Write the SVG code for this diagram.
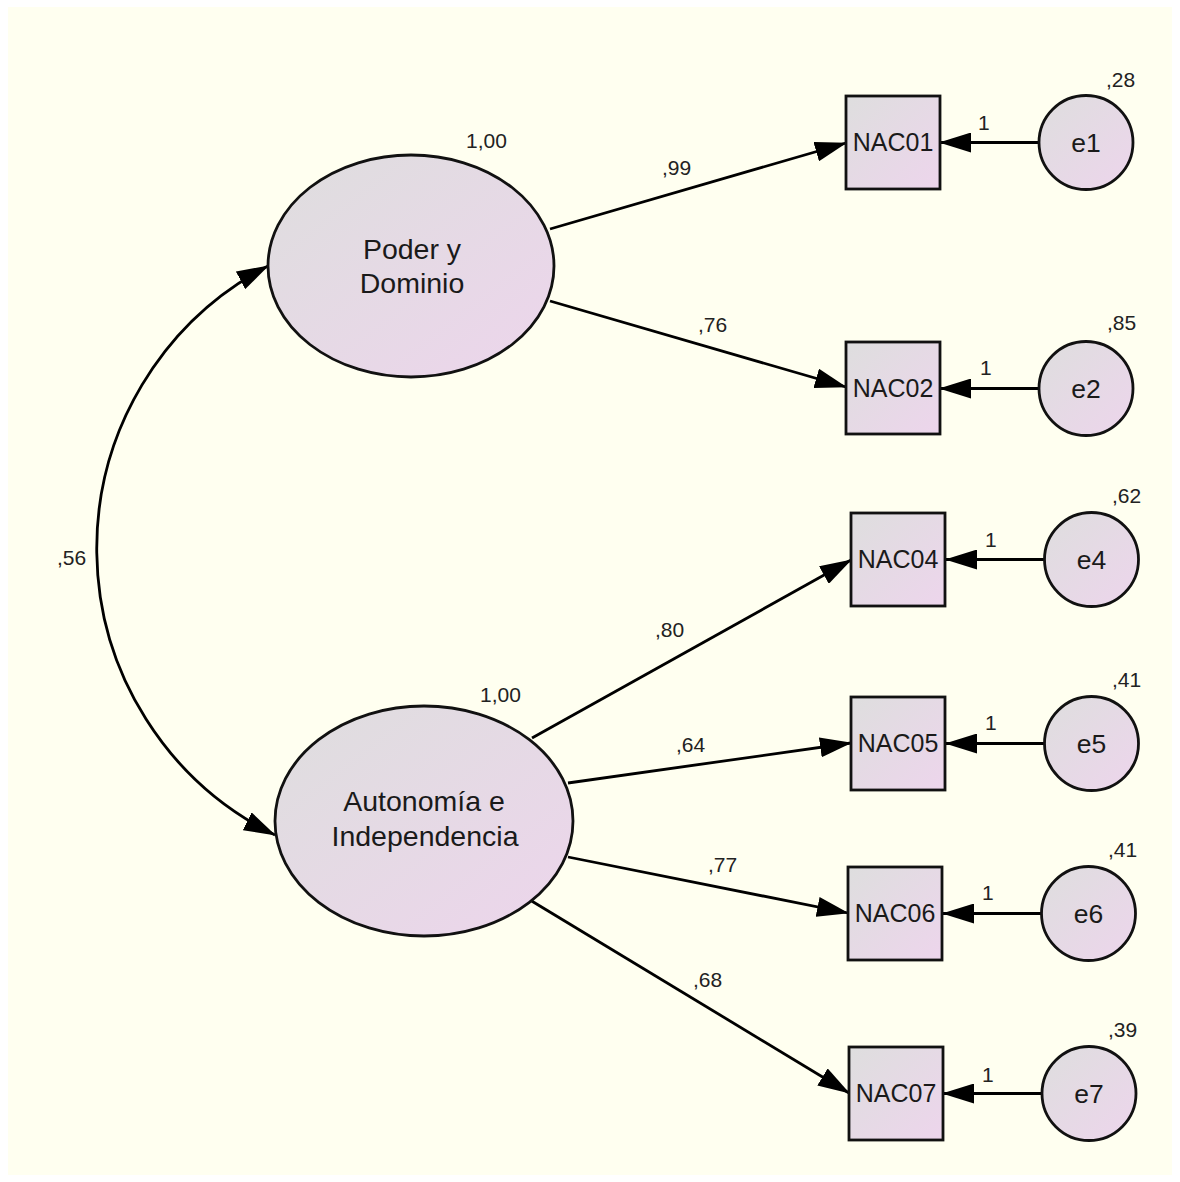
<svg xmlns="http://www.w3.org/2000/svg" width="1180" height="1182" viewBox="0 0 1180 1182">
<defs>
<linearGradient id="fill" x1="0" y1="0" x2="1" y2="1">
<stop offset="0" stop-color="#dedede"/>
<stop offset="1" stop-color="#edd5ec"/>
</linearGradient>
<marker id="ah" viewBox="0 0 32 20" refX="31" refY="10" markerWidth="32" markerHeight="20" markerUnits="userSpaceOnUse" orient="auto-start-reverse">
<path d="M0,0 L32,10 L0,20 z" fill="#000"/>
</marker>
<style>
.node{fill:url(#fill);stroke:#111;stroke-width:2.8}
.edge{fill:none;stroke:#000;stroke-width:2.8;marker-end:url(#ah)}
.lat{font-family:"Liberation Sans",Arial,sans-serif;font-size:28.5px;fill:#1a1a1a;text-anchor:middle}
.obs{font-family:"Liberation Sans",Arial,sans-serif;font-size:25px;fill:#1a1a1a;text-anchor:middle}
.err{font-family:"Liberation Sans",Arial,sans-serif;font-size:26.5px;fill:#1a1a1a;text-anchor:middle}
.lbl{font-family:"Liberation Sans",Arial,sans-serif;font-size:21px;fill:#222}
</style>
</defs>
<rect x="0" y="0" width="1180" height="1182" fill="#ffffff"/>
<rect x="8" y="7" width="1164" height="1168" fill="#fffff0"/>

<g id="connectors">
<path class="edge" d="M 268 266 A 319 319 0 0 0 275 835" style="marker-start:url(#ah)"/>
<line class="edge" x1="550" y1="229" x2="846" y2="143"/>
<line class="edge" x1="550" y1="301" x2="846" y2="387"/>
<line class="edge" x1="532" y1="738" x2="851" y2="560"/>
<line class="edge" x1="568" y1="783" x2="851" y2="743"/>
<line class="edge" x1="568" y1="857" x2="848" y2="913"/>
<line class="edge" x1="530" y1="900" x2="849" y2="1093"/>
<line class="edge" x1="1039" y1="142.5" x2="940" y2="142.5"/>
<line class="edge" x1="1039" y1="388.5" x2="940" y2="388.5"/>
<line class="edge" x1="1044" y1="559.5" x2="946" y2="559.5"/>
<line class="edge" x1="1044" y1="743.5" x2="946" y2="743.5"/>
<line class="edge" x1="1041" y1="913.5" x2="943" y2="913.5"/>
<line class="edge" x1="1042" y1="1093.5" x2="943" y2="1093.5"/>
<text class="lbl" x="57" y="565">,56</text>
<text class="lbl" x="662" y="175">,99</text>
<text class="lbl" x="698" y="332">,76</text>
<text class="lbl" x="655" y="637">,80</text>
<text class="lbl" x="676" y="752">,64</text>
<text class="lbl" x="708" y="872">,77</text>
<text class="lbl" x="693" y="987">,68</text>
<text class="lbl" x="978" y="130">1</text>
<text class="lbl" x="980" y="375">1</text>
<text class="lbl" x="985" y="547">1</text>
<text class="lbl" x="985" y="730">1</text>
<text class="lbl" x="982" y="900">1</text>
<text class="lbl" x="982" y="1082">1</text>
</g>

<g id="poder">
<ellipse class="node" cx="411" cy="266" rx="143" ry="111"/>
<text class="lat" x="412" y="259">Poder y</text>
<text class="lat" x="412" y="293">Dominio</text>
<text class="lbl" x="466" y="148">1,00</text>
</g>
<g id="autonomia">
<ellipse class="node" cx="424" cy="821" rx="149" ry="115"/>
<text class="lat" x="424" y="811">Autonomía e</text>
<text class="lat" x="425" y="846">Independencia</text>
<text class="lbl" x="480" y="702">1,00</text>
</g>

<g id="NAC01"><rect class="node" x="846" y="96" width="94" height="93"/><text class="obs" x="893" y="151">NAC01</text></g>
<g id="NAC02"><rect class="node" x="846" y="342" width="94" height="92"/><text class="obs" x="893" y="397">NAC02</text></g>
<g id="NAC04"><rect class="node" x="851" y="513" width="94" height="93"/><text class="obs" x="898" y="568">NAC04</text></g>
<g id="NAC05"><rect class="node" x="851" y="697" width="94" height="93"/><text class="obs" x="898" y="752">NAC05</text></g>
<g id="NAC06"><rect class="node" x="848" y="867" width="94" height="93"/><text class="obs" x="895" y="922">NAC06</text></g>
<g id="NAC07"><rect class="node" x="849" y="1047" width="94" height="93"/><text class="obs" x="896" y="1102">NAC07</text></g>

<g id="e1"><circle class="node" cx="1086" cy="142.5" r="47"/><text class="err" x="1086" y="152">e1</text><text class="lbl" x="1106" y="87">,28</text></g>
<g id="e2"><circle class="node" cx="1086" cy="388.5" r="47"/><text class="err" x="1086" y="398">e2</text><text class="lbl" x="1107" y="330">,85</text></g>
<g id="e4"><circle class="node" cx="1091.5" cy="559.5" r="47"/><text class="err" x="1091.5" y="569">e4</text><text class="lbl" x="1112" y="503">,62</text></g>
<g id="e5"><circle class="node" cx="1091.5" cy="743.5" r="47"/><text class="err" x="1091.5" y="753">e5</text><text class="lbl" x="1112" y="687">,41</text></g>
<g id="e6"><circle class="node" cx="1088.5" cy="913.5" r="47"/><text class="err" x="1088.5" y="923">e6</text><text class="lbl" x="1108" y="857">,41</text></g>
<g id="e7"><circle class="node" cx="1089" cy="1093.5" r="47"/><text class="err" x="1089" y="1103">e7</text><text class="lbl" x="1108" y="1037">,39</text></g>
</svg>
